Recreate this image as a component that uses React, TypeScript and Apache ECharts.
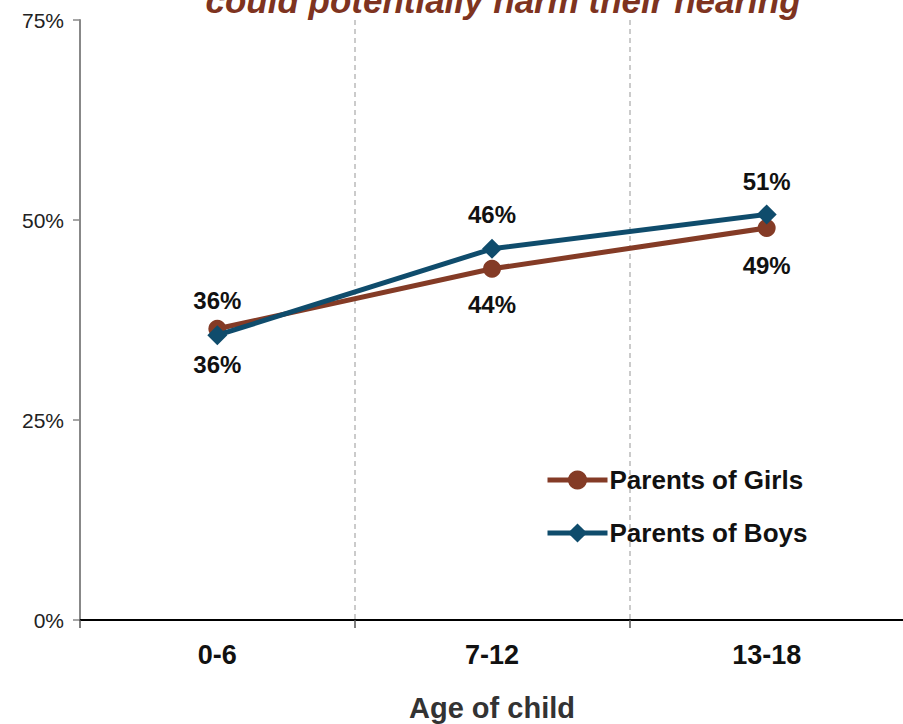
import React, { useEffect, useRef } from "react";
import * as echarts from "echarts";

const categories = ["0-6", "7-12", "13-18"];
const girls = [36.4, 43.9, 49.0];
const boys = [35.6, 46.4, 50.7];
const girlsLabelPos = ["top", "bottom", "bottom"];
const boysLabelPos = ["bottom", "top", "top"];
const yTicks = [0, 25, 50, 75];
const titleText = "could potentially harm their hearing";

const GIRL = "#843B26";
const BOY = "#0F4C6C";
const FF = "Liberation Sans, Arial, sans-serif";

export default function App() {
  const ref = useRef<HTMLDivElement>(null);
  useEffect(() => {
    const chart = echarts.init(ref.current!, null, { renderer: "svg" });
    const labelStyle = {
      show: true,
      fontFamily: FF,
      fontWeight: "bold",
      fontSize: 24,
      color: "#111",
      formatter: (p: any) => Math.round(p.value) + "%",
    };
    const mk = (vals: number[], pos: string[], dists: number[]) =>
      vals.map((v, i) => ({
        value: v,
        label: { ...labelStyle, position: pos[i], distance: dists[i] },
      }));
    chart.setOption({
      animation: false,
      backgroundColor: "#fff",
      textStyle: { fontFamily: FF },
      graphic: [
        {
          type: "text",
          x: 503,
          y: 0,
          style: {
            text: titleText,
            fill: "#7E3320",
            font: "italic bold 35px 'Liberation Sans', Arial, sans-serif",
            align: "center",
            verticalAlign: "middle",
          },
        },
      ],
      grid: {
        left: 80,
        top: 20,
        right: -1,
        bottom: 104,
        containLabel: false,
        outerBoundsMode: "none",
      },
      legend: {
        orient: "vertical",
        left: 540,
        top: 462,
        itemWidth: 60,
        itemHeight: 24,
        itemGap: 27,
        lineStyle: { width: 5 },
        textStyle: {
          fontFamily: FF,
          fontWeight: "bold",
          fontSize: 26,
          color: "#111",
          padding: [0, 0, 0, -3],
        },
        data: ["Parents of Girls", "Parents of Boys"],
      },
      xAxis: {
        type: "category",
        data: categories,
        boundaryGap: true,
        name: "Age of child",
        nameLocation: "middle",
        nameGap: 73,
        nameTextStyle: {
          fontFamily: FF,
          fontWeight: "bold",
          fontSize: 29,
          color: "#333",
        },
        axisLine: { lineStyle: { color: "#000", width: 2 } },
        axisTick: { show: true, length: 8, lineStyle: { color: "#555", width: 1.5 } },
        axisLabel: {
          margin: 21,
          fontFamily: FF,
          fontWeight: "bold",
          fontSize: 27,
          color: "#111",
        },
        splitLine: {
          show: true,
          lineStyle: { type: [5, 4], color: "#bbb", width: 1.5 },
        },
      },
      yAxis: {
        type: "value",
        min: yTicks[0],
        max: yTicks[yTicks.length - 1],
        interval: yTicks[1] - yTicks[0],
        axisLine: { show: true, lineStyle: { color: "#888", width: 2 } },
        axisTick: { show: true, length: 7, lineStyle: { color: "#888", width: 1.5 } },
        axisLabel: {
          margin: 16,
          fontFamily: FF,
          fontSize: 21,
          color: "#222",
          formatter: "{value}%",
        },
        splitLine: { show: false },
      },
      series: [
        {
          name: "Parents of Girls",
          type: "line",
          data: mk(girls, girlsLabelPos, [7, 15, 16]),
          symbol: "circle",
          symbolSize: 18,
          itemStyle: { color: GIRL },
          lineStyle: { color: GIRL, width: 5 },
          z: 2,
        },
        {
          name: "Parents of Boys",
          type: "line",
          data: mk(boys, boysLabelPos, [7, 12, 11]),
          symbol: "diamond",
          symbolSize: 20,
          itemStyle: { color: BOY },
          lineStyle: { color: BOY, width: 5 },
          z: 3,
        },
      ],
    });
    return () => chart.dispose();
  }, []);
  return (
    <div
      ref={ref}
      style={{ position: "fixed", left: 0, top: 0, width: 903, height: 724 }}
    />
  );
}
